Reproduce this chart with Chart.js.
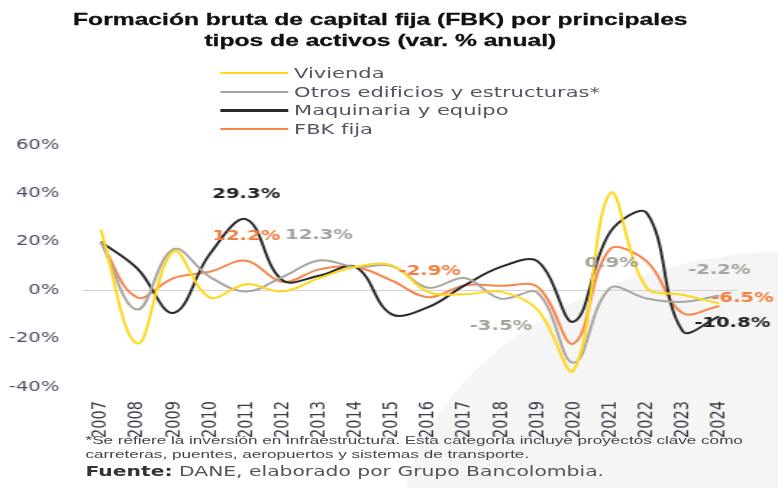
<!DOCTYPE html>
<html lang="es">
<head>
<meta charset="utf-8">
<script src="https://cdn.jsdelivr.net/npm/chart.js@4.4.1/dist/chart.umd.min.js"></script>
<style>
  html, body { margin: 0; padding: 0; background: #fff; }
  body { width: 778px; height: 488px; position: relative; overflow: hidden; font-family: "Liberation Sans", Arial, sans-serif; }
  #swoosh { position: absolute; left: 400px; top: 250px; width: 820px; height: 570px; border-radius: 50%; background: #f5f5f5; }
  /* the source image is stretched sideways, so the whole drawing is too */
  #stretch { position: absolute; left: 0; top: 0; width: 537px; height: 488px; transform: scaleX(1.4488); transform-origin: 0 0; }
  #chart { position: absolute; left: 0; top: 0; }
  .title { position: absolute; left: 0; width: 525px; top: 9px; text-align: center; font-weight: bold; font-size: 17px; line-height: 21px; color: #111; -webkit-text-stroke: 0.3px #111; }
  #legend { position: absolute; left: 152px; top: 64px; }
  .item { height: 18.6px; display: flex; align-items: center; font-family: "DejaVu Sans", sans-serif; font-size: 14.5px; color: #555560; }
  .item .line { width: 47px; height: 2.3px; margin-right: 4px; }
  .note { position: absolute; left: 59px; top: 433px; font-size: 11.8px; line-height: 14px; color: #444; white-space: nowrap; }
  .source { position: absolute; left: 59px; top: 463px; font-family: "DejaVu Sans", sans-serif; font-size: 14px; color: #555; white-space: nowrap; }
  .source b { color: #333; }
</style>
</head>
<body>
<div id="swoosh"></div>
<div id="stretch">
  <canvas id="chart" width="537" height="488"></canvas>
  <div class="title">Formación bruta de capital fija (FBK) por principales<br>tipos de activos (var. % anual)</div>
  <div id="legend"></div>
  <div class="note">*Se refiere la inversión en infraestructura. Esta categoría incluye proyectos clave como<br>carreteras, puentes, aeropuertos y sistemas de transporte.</div>
  <div class="source"><b>Fuente:</b> DANE, elaborado por Grupo Bancolombia.</div>
</div>
<script>
const years = ['2007', '2008', '2009', '2010', '2011', '2012', '2013', '2014', '2015',
  '2016', '2017', '2018', '2019', '2020', '2021', '2022', '2023', '2024'];

const vivienda = [25, -22, 16, -3, 2.5, -0.5, 5, 9.6, 10.3, -0.7, -1.7, -0.7, -8, -33, 40, 1, -2, -5.5];
const otros = [20, -8, 17, 5.5, -0.5, 5.5, 12.3, 9.6, 10, 1, 5, -3.5, -1, -30, 0.9, -3.4, -4.8, -2.2];
const maquinaria = [20, 9, -9.4, 15, 29.3, 4, 6, 9.6, -10, -7, 2, 9.6, 12, -13, 24, 32, -17, -10.8];
const fbk = [20, -3, 5, 7.6, 12.2, 3.4, 8.6, 9.6, 4, -2.9, 2, 1.8, 1.5, -22, 17, 12, -9.5, -6.5];

const yTicks = [-40, -20, 0, 20, 40, 60];

// which points get a value label, and where it sits relative to the point
const valueLabels = [
  { series: 2, year: '2011', dx: 0, dy: -25 },
  { series: 3, year: '2011', dx: 0, dy: -24 },
  { series: 1, year: '2013', dx: 0, dy: -25 },
  { series: 3, year: '2016', dx: 1, dy: -26 },
  { series: 1, year: '2018', dx: 0, dy: 28 },
  { series: 1, year: '2021', dx: 1, dy: -25 },
  { series: 1, year: '2024', dx: 0, dy: -25 },
  { series: 3, year: '2024', dx: 16, dy: -7 },
  { series: 2, year: '2024', dx: 9, dy: 7 },
];

const labelColors = ['#e8c300', '#a6a19b', '#222222', '#f47c3c'];

const datasets = [
  { label: 'Vivienda', data: vivienda, borderColor: '#ffd81e' },
  { label: 'Otros edificios y estructuras*', data: otros, borderColor: '#aaa5a0' },
  { label: 'Maquinaria y equipo', data: maquinaria, borderColor: '#2a2a2a' },
  { label: 'FBK fija', data: fbk, borderColor: '#f7864e' },
].map((d) => ({ ...d, borderWidth: 2, pointRadius: 0, tension: 0.38, fill: false }));

// html legend built from the datasets
const legendEl = document.getElementById('legend');
datasets.forEach((d) => {
  const row = document.createElement('div');
  row.className = 'item';
  row.innerHTML = `<span class="line" style="background:${d.borderColor}"></span>${d.label}`;
  legendEl.appendChild(row);
});

const valueLabelPlugin = {
  id: 'valueLabels',
  afterDatasetsDraw(chart) {
    const { ctx } = chart;
    const xs = chart.scales.x;
    const ys = chart.scales.y;
    ctx.save();
    ctx.font = 'bold 13.5px "DejaVu Sans", sans-serif';
    ctx.textAlign = 'center';
    ctx.textBaseline = 'middle';
    valueLabels.forEach((l) => {
      const i = years.indexOf(l.year);
      const v = chart.data.datasets[l.series].data[i];
      const x = xs.getPixelForValue(i) + l.dx;
      const y = ys.getPixelForValue(v) + l.dy;
      ctx.fillStyle = labelColors[l.series];
      ctx.fillText(v.toFixed(1) + '%', x, y);
    });
    ctx.restore();
  },
};

const config = {
  type: 'line',
  data: { labels: years, datasets: datasets },
  options: {
    responsive: false,
    animation: false,
    layout: { padding: { top: 145, right: 28, bottom: 0, left: 0 } },
    plugins: { legend: { display: false }, tooltip: { enabled: false } },
    scales: {
      x: {
        offset: true,
        grid: { display: false },
        border: { display: false },
        ticks: {
          autoSkip: false,
          minRotation: 90,
          maxRotation: 90,
          padding: 6,
          color: '#3a3a48',
          font: { family: '"DejaVu Sans", sans-serif', size: 14.5 },
        },
        afterFit: (scale) => { scale.height = 101; },
      },
      y: {
        min: -40,
        max: 60,
        afterBuildTicks: (scale) => { scale.ticks = yTicks.map((v) => ({ value: v })); },
        grid: {
          drawTicks: false,
          color: (c) => (c.tick && c.tick.value === 0 ? '#d2d2d2' : 'rgba(0,0,0,0)'),
        },
        border: { display: false },
        ticks: {
          padding: 16,
          color: '#4b4b5c',
          font: { family: '"DejaVu Sans", sans-serif', size: 13.5 },
          callback: (v) => v + '%',
        },
        afterFit: (scale) => { scale.width = 57; },
      },
    },
  },
  plugins: [valueLabelPlugin],
};

const myChart = new Chart(document.getElementById('chart'), config);
</script>
</body>
</html>
